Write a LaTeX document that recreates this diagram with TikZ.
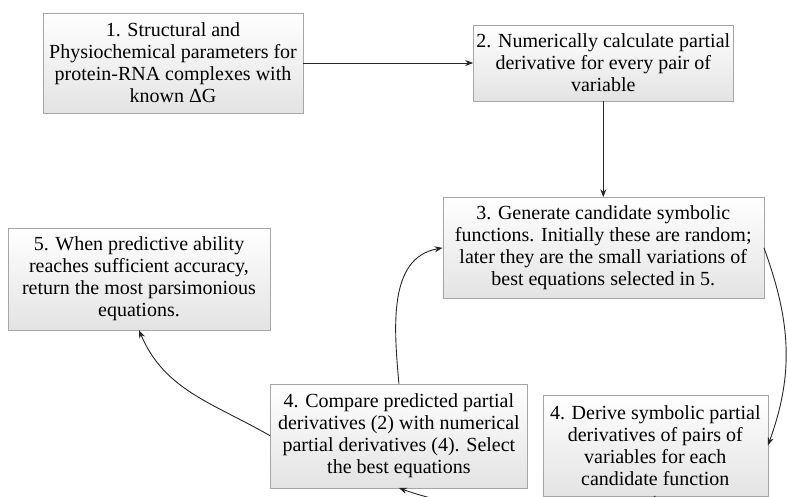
\documentclass[tikz,border=0pt]{standalone}
\usepackage{fontspec}
\setmainfont{Liberation Serif}
\usetikzlibrary{positioning,arrows.meta,shadows}

\tikzset{
  stage/.style={draw=gray!70, top color=white, bottom color=gray!22,
    align=center, inner sep=3pt, font=\fontsize{20}{22}\selectfont,
    drop shadow={shadow xshift=0.8pt, shadow yshift=-0.8pt, fill=gray!70, opacity=0.5}},
  flow/.style={draw=black!85, line width=0.9pt, -{Stealth[length=8pt,width=6pt]}}
}

\begin{document}
\begin{tikzpicture}[x=1pt, y=-1pt]
\useasboundingbox (0,0) rectangle (787,497);

\node[stage, minimum width=260pt, minimum height=100pt] (param) at (173,63)
  {1. Structural and\\ Physiochemical parameters for\\ protein-RNA complexes with\\ known ΔG};
\node[stage, minimum width=258pt, minimum height=76pt, right=170pt of param] (numdiff)
  {2. Numerically calculate partial\\ derivative for every pair of\\ variable};
\node[stage, minimum width=321pt, minimum height=101pt, below=96pt of numdiff] (gen)
  {3. Generate candidate symbolic\\ functions. Initially these are random;\\ later they are the small variations of\\ best equations selected in 5.};
\node[stage, minimum width=225pt, minimum height=101pt, below=96pt of gen, xshift=52pt] (derive)
  {4. Derive symbolic partial\\ derivatives of pairs of\\ variables for each\\ candidate function};
\node[stage, minimum width=257pt, minimum height=104pt, left=15pt of derive, yshift=9.5pt] (compare)
  {4. Compare predicted partial\\ derivatives (2) with numerical\\ partial derivatives (4). Select\\ the best equations};
\node[stage, minimum width=262pt, minimum height=102pt] (report) at (139,279)
  {5. When predictive ability\\ reaches sufficient accuracy,\\ return the most parsimonious\\ equations.};

\draw[flow] (param) -- (numdiff);
\draw[flow] (numdiff) -- (gen);
\draw[flow] (gen.east) to[out=-70, in=70] (derive.east);
\draw[flow] (derive.south) to[out=-135, in=-20, looseness=0.6] (compare.south);
\draw[flow] (compare.west) to[out=150, in=-67] (report.south);
\draw[flow] (compare.north) to[out=95, in=190] (gen.west);
\end{tikzpicture}
\end{document}
